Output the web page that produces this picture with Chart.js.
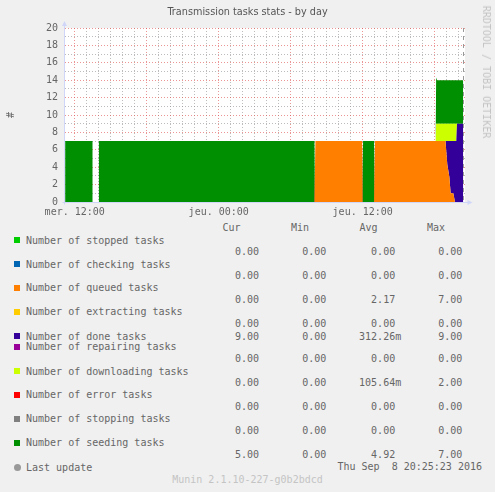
<!DOCTYPE html>
<html>
<head>
<meta charset="utf-8">
<script src="https://cdn.jsdelivr.net/npm/chart.js@4/dist/chart.umd.min.js"></script>
<style>
html,body{margin:0;padding:0;background:#f0f0f0;}
#wrap{position:relative;width:495px;height:492px;overflow:hidden;background:#f0f0f0;}
#c{position:absolute;left:0;top:0;}
.t{position:absolute;white-space:pre;font-family:'DejaVu Sans Mono',monospace;font-size:10px;line-height:12px;height:12px;color:#666666;}
.title{position:absolute;left:0;width:495px;top:6px;text-align:center;font-family:'DejaVu Sans',sans-serif;font-size:9.7px;line-height:12px;color:#555555;white-space:pre;}
.wm{position:absolute;white-space:pre;font-family:'DejaVu Sans Mono',monospace;font-size:10px;line-height:12px;color:#c4c4c4;}
.sw{position:absolute;width:6px;height:6px;}
</style>
</head>
<body>
<div id="wrap"><canvas id="c" width="495" height="220"></canvas></div>
<script>
// ---------- data ----------
const chartTitle = 'Transmission tasks stats - by day';
const yAxisTitle = '#';
// time axis in hours since Wednesday 00:00
const hours   = [11.2, 13.5, 13.55, 13.95, 14.0, 31.98, 32.02, 32.06, 35.95, 35.99, 36.03, 36.95, 36.99, 37.03, 42.08, 42.12, 42.2, 42.9, 43.05, 43.22, 43.33, 43.55, 43.69, 43.8, 43.86, 44.38];
const queued  = [0, 0, 0, 0, 0, 0, 0, 7, 7, 0, 0, 0, 0, 7, 7, 7, 7, 7, 4.3, 2.9, 1, 1, 0, 0, 0, 0];
const done    = [0, 0, 0, 0, 0, 0, 0, 0, 0, 0, 0, 0, 0, 0, 0, 0, 0, 0, 2.7, 4.1, 6, 6, 7, 7, 9, 9];
const downloading = [0, 0, 0, 0, 0, 0, 0, 0, 0, 0, 0, 0, 0, 0, 0, 2, 2, 2, 2, 2, 2, 2, 2, 2, 0, 0];
const seeding = [7, 7, null, null, 7, 7, 0, 0, 0, 0, 7, 7, 0, 0, 0, 5.3, 5, 5, 5, 5, 5, 5, 5, 5, 5, 5];
const lastUpdateHour = 44.423; // Thu 20:25:23

const xLabelHours = [12, 24, 36];
const xLabels = ['mer. 12:00', 'jeu. 00:00', 'jeu. 12:00'];
const yLabelValues = [0, 2, 4, 6, 8, 10, 12, 14, 16, 18, 20];

const legendNames = ['Number of stopped tasks', 'Number of checking tasks', 'Number of queued tasks', 'Number of extracting tasks', 'Number of done tasks', 'Number of repairing tasks', 'Number of downloading tasks', 'Number of error tasks', 'Number of stopping tasks', 'Number of seeding tasks'];
const legendColors = ['#00CC00', '#0066B3', '#FF8000', '#FFCC00', '#330099', '#990099', '#CCFF00', '#FF0000', '#808080', '#008F00'];
const curValues = ['0.00', '0.00', '0.00', '0.00', '9.00', '0.00', '0.00', '0.00', '0.00', '5.00'];
const minValues = ['0.00', '0.00', '0.00', '0.00', '0.00', '0.00', '0.00', '0.00', '0.00', '0.00'];
const avgValues = ['0.00', '0.00', '2.17', '0.00', '312.26m', '0.00', '105.64m', '0.00', '0.00', '4.92'];
const maxValues = ['0.00', '0.00', '7.00', '0.00', '9.00', '0.00', '2.00', '0.00', '0.00', '7.00'];
const columnHeaders = ['Cur', 'Min', 'Avg', 'Max'];
const lastUpdateLabel = 'Last update';
const lastUpdateText = 'Thu Sep  8 20:25:23 2016';
const watermark = 'Munin 2.1.10-227-g0b2bdcd';
const sideWatermark = 'RRDTOOL / TOBI OETIKER';

// ---------- styles ----------
const AXIS = '#CFD6F8';
const MAJOR = 'rgba(222,79,79,0.6)';
const MINOR = 'rgba(143,143,143,0.6)';
const FONT = '#666666';

const pts = vals => hours.map((h, i) => ({x: h, y: vals[i]}));
const area = (vals, color, fill) => ({data: pts(vals), backgroundColor: color, borderColor: color, borderWidth: 0, pointRadius: 0, pointHoverRadius: 0, fill: fill, tension: 0});

const muninPlugin = {
  id: 'munin',
  beforeDraw(chart) {
    const {ctx, chartArea: a} = chart;
    ctx.save();
    ctx.fillStyle = '#ffffff';
    ctx.fillRect(a.left, a.top, a.right - a.left, a.bottom - a.top);
    ctx.restore();
  },
  afterDraw(chart) {
    const {ctx, chartArea: a, scales: {x}} = chart;
    // last update rule
    const vx = Math.floor(x.getPixelForValue(lastUpdateHour)) + 0.5;
    ctx.save();
    ctx.strokeStyle = '#999999';
    ctx.lineWidth = 1;
    ctx.setLineDash([4, 4]);
    ctx.beginPath();
    ctx.moveTo(vx, a.top);
    ctx.lineTo(vx, a.bottom);
    ctx.stroke();
    ctx.restore();
    // axes with arrows
    const ax = Math.round(a.left) - 0.5;
    const ay = Math.round(a.bottom) + 0.5;
    ctx.save();
    ctx.strokeStyle = AXIS;
    ctx.fillStyle = AXIS;
    ctx.lineWidth = 1;
    ctx.beginPath();
    ctx.moveTo(ax - 2, ay);
    ctx.lineTo(a.right + 3, ay);
    ctx.moveTo(ax, ay + 2);
    ctx.lineTo(ax, a.top - 3);
    ctx.stroke();
    ctx.beginPath();
    ctx.moveTo(a.right + 7.5, ay);
    ctx.lineTo(a.right + 2.5, ay - 2.5);
    ctx.lineTo(a.right + 2.5, ay + 2.5);
    ctx.closePath();
    ctx.fill();
    ctx.beginPath();
    ctx.moveTo(ax, a.top - 7);
    ctx.lineTo(ax - 2.5, a.top - 2);
    ctx.lineTo(ax + 2.5, a.top - 2);
    ctx.closePath();
    ctx.fill();
    ctx.restore();
  }
};

new Chart(document.getElementById('c'), {
  type: 'line',
  data: {
    datasets: [
      area(queued, legendColors[2], 'origin'),
      area(done, legendColors[4], '-1'),
      area(downloading, legendColors[6], '-1'),
      area(seeding, legendColors[9], '-1')
    ]
  },
  options: {
    responsive: false,
    animation: false,
    devicePixelRatio: 1,
    layout: {padding: {left: 0, right: 30, top: 28, bottom: 0}},
    plugins: {legend: {display: false}, tooltip: {enabled: false}, title: {display: false}},
    scales: {
      x: {
        type: 'linear',
        min: 11.19,
        max: 44.525,
        z: 1,
        afterBuildTicks(scale) {
          const t = [];
          for (let h = Math.ceil(scale.min); h <= Math.floor(scale.max); h++) t.push({value: h});
          scale.ticks = t;
        },
        afterFit(scale) { scale.height = 18; },
        ticks: {
          autoSkip: false,
          maxRotation: 0,
          padding: 4,
          color: FONT,
          font: {family: 'DejaVu Sans Mono', size: 10},
          callback: v => { const i = xLabelHours.indexOf(v); return i >= 0 ? xLabels[i] : ''; }
        },
        grid: {
          drawTicks: false,
          lineWidth: 1,
          color: c => (c.tick && c.tick.value % 6 === 0) ? MAJOR : MINOR
        },
        border: {display: false, dash: [1, 2]}
      },
      y: {
        stacked: true,
        min: 0,
        max: 20,
        z: 1,
        afterBuildTicks(scale) {
          const t = [];
          for (let v = 0; v <= 20; v++) t.push({value: v});
          scale.ticks = t;
        },
        afterFit(scale) { scale.width = 65; },
        title: {display: true, text: yAxisTitle, color: FONT, font: {family: 'DejaVu Sans Mono', size: 10}, padding: {top: 5, bottom: 0}},
        ticks: {
          autoSkip: false,
          padding: 7,
          color: FONT,
          font: {family: 'DejaVu Sans Mono', size: 10},
          callback: v => yLabelValues.includes(v) ? String(v) : ''
        },
        grid: {
          drawTicks: false,
          lineWidth: 1,
          color: c => (c.tick && c.tick.value % 2 === 0) ? MAJOR : MINOR
        },
        border: {display: false, dash: [1, 2]}
      }
    }
  },
  plugins: [muninPlugin]
});

// ---------- HTML legend ----------
const wrap = document.getElementById('wrap');
function addText(text, cls, styles) {
  const d = document.createElement('div');
  d.className = cls;
  d.textContent = text;
  Object.assign(d.style, styles);
  wrap.appendChild(d);
  return d;
}
const title = document.createElement('div');
title.className = 'title';
title.textContent = chartTitle;
wrap.appendChild(title);

const side = addText(sideWatermark, 'wm', {left: '486px', top: '71.5px', transform: 'translate(-50%,-50%) rotate(90deg)'});

const headerLeft = [222.5, 291, 359.5, 427];
columnHeaders.forEach((h, i) => addText(h, 't', {left: headerLeft[i] + 'px', top: (228.3 - 6) + 'px'}));

const labelY = [240.6, 264.6, 288.4, 312.4, 336.6, 347.4, 371.6, 395.4, 419.4, 443.4];
const valueY = [252.4, 276.4, 300.4, 324.4, 336.6, 359.4, 383.4, 407.4, 431.4, 455.4];
const colRight = [265, 332.3, 401.2, 468.4];
const fmt = s => /[a-z]$/.test(s) ? s : s + ' ';
legendNames.forEach((name, i) => {
  const sw = document.createElement('div');
  sw.className = 'sw';
  sw.style.left = '14px';
  sw.style.top = (labelY[i] - 3.3) + 'px';
  sw.style.background = legendColors[i];
  wrap.appendChild(sw);
  addText(name, 't', {left: '26px', top: (labelY[i] - 6) + 'px'});
  [curValues[i], minValues[i], avgValues[i], maxValues[i]].forEach((v, k) => {
    addText(fmt(v), 't', {right: (495 - colRight[k]) + 'px', top: (valueY[i] - 6) + 'px', textAlign: 'right'});
  });
});
const dot = document.createElement('div');
dot.style.cssText = 'position:absolute;left:14px;top:464.3px;width:7px;height:7px;border-radius:50%;background:#999999;';
wrap.appendChild(dot);
addText(lastUpdateLabel, 't', {left: '26px', top: (467.6 - 6) + 'px'});
addText(lastUpdateText, 't', {left: '337.5px', top: (466.7 - 6) + 'px'});
addText(watermark, 'wm', {left: '0px', width: '495px', textAlign: 'center', top: (480.3 - 6) + 'px'});
</script>
</body>
</html>
